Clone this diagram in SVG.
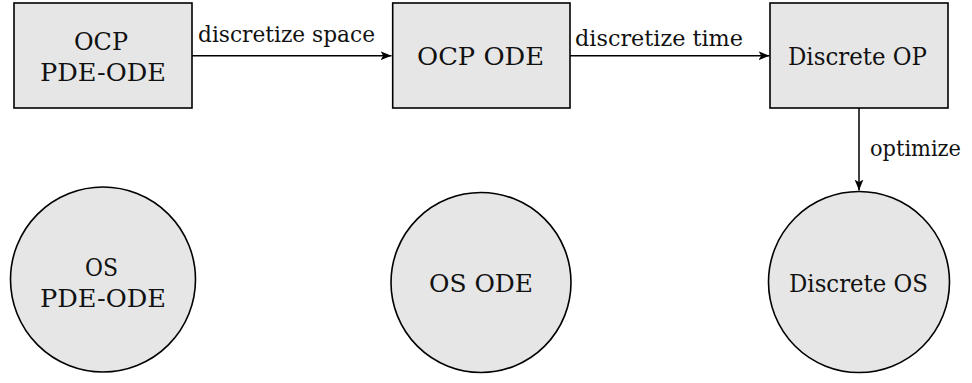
<svg xmlns="http://www.w3.org/2000/svg" width="972" height="383" viewBox="0 0 972 383">
<style>
.node{fill:#e6e6e6;stroke:#000;stroke-width:1.6}
.t{font-size:24px;fill:#111;text-anchor:middle}
.lab{font-size:22px;fill:#111;text-anchor:start}
.edge{stroke:#000;stroke-width:1.5;fill:none;marker-end:url(#arr)}
</style>
<defs>
<marker id="arr" viewBox="0 0 10 10" refX="10" refY="5" markerWidth="11" markerHeight="11" markerUnits="userSpaceOnUse" orient="auto">
<path d="M0,1 L10,5 L0,9 L2.5,5 Z" fill="#000"/>
</marker>
</defs>
<g font-family="DejaVu Serif, serif">
<g id="connectors">
<path class="edge" d="M192,55.7 L391.5,55.7"/>
<path class="edge" d="M570,55.7 L769.5,55.7"/>
<path class="edge" d="M859,108 L859,190.5"/>
<text class="lab" x="198" y="41.5" textLength="177" lengthAdjust="spacingAndGlyphs">discretize space</text>
<text class="lab" x="575" y="46" textLength="168" lengthAdjust="spacingAndGlyphs">discretize time</text>
<text class="lab" x="870" y="156" textLength="91" lengthAdjust="spacingAndGlyphs">optimize</text>
</g>
<g id="ocp-pde-ode">
<rect class="node" x="14" y="3" width="178" height="105"/>
<text class="t" x="101" y="50" textLength="54" lengthAdjust="spacingAndGlyphs">OCP</text>
<text class="t" x="103" y="81" textLength="126" lengthAdjust="spacingAndGlyphs">PDE-ODE</text>
</g>
<g id="ocp-ode">
<rect class="node" x="392.7" y="3" width="177.3" height="105"/>
<text class="t" x="480.5" y="65" textLength="127" lengthAdjust="spacingAndGlyphs">OCP ODE</text>
</g>
<g id="discrete-op">
<rect class="node" x="770" y="3" width="178" height="105"/>
<text class="t" x="857.5" y="65" textLength="139" lengthAdjust="spacingAndGlyphs">Discrete OP</text>
</g>
<g id="os-pde-ode">
<circle class="node" cx="103" cy="279.5" r="92.5"/>
<text class="t" x="101.5" y="276" textLength="33" lengthAdjust="spacingAndGlyphs">OS</text>
<text class="t" x="103" y="307" textLength="126" lengthAdjust="spacingAndGlyphs">PDE-ODE</text>
</g>
<g id="os-ode">
<circle class="node" cx="481" cy="282.5" r="90"/>
<text class="t" x="481" y="291.7" textLength="104" lengthAdjust="spacingAndGlyphs">OS ODE</text>
</g>
<g id="discrete-os">
<circle class="node" cx="859" cy="282" r="90.5"/>
<text class="t" x="858.5" y="291.7" textLength="139" lengthAdjust="spacingAndGlyphs">Discrete OS</text>
</g>
</g>
</svg>
